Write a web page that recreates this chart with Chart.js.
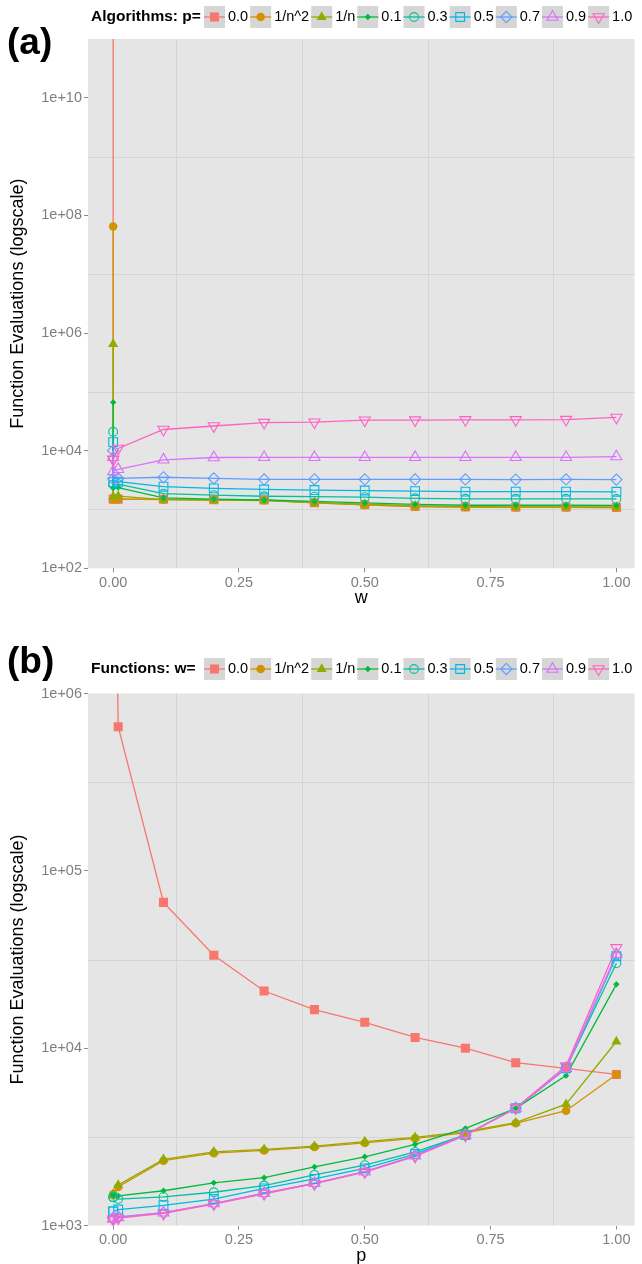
<!DOCTYPE html>
<html lang="en">
<head>
<meta charset="UTF-8">
<title>Function evaluations</title>
<style>
    html, body { margin: 0; padding: 0; background: #fff; }
    body { width: 642px; height: 1264px; overflow: hidden; position: relative; }
    canvas { position: absolute; left: 0; }
    #chartA { top: 0; }
    #chartB { top: 640px; }
</style>
</head>
<body>
<canvas id="chartA" width="642" height="622"></canvas>
<canvas id="chartB" width="642" height="638"></canvas>

<script src="https://cdn.jsdelivr.net/npm/chart.js@4.4.0/dist/chart.umd.min.js"></script>
<script>
    // levels of p and w (n = 100, so 1/n^2 = 0.0001 and 1/n = 0.01)
    const levels = [0, 0.0001, 0.01, 0.1, 0.2, 0.3, 0.4, 0.5, 0.6, 0.7, 0.8, 0.9, 1.0];
    const seriesNames = ['0.0', '1/n^2', '1/n', '0.1', '0.3', '0.5', '0.7', '0.9', '1.0'];
    const seriesLevel = [0, 1, 2, 3, 5, 7, 9, 11, 12];   // index into levels

    // function evaluations, one row per p, columns follow the w levels
    // 1e12 = run that never finishes (off the chart)
    const evalsP00 = [1e12, 1500, 1500, 1490, 1460, 1450, 1300, 1200, 1120, 1100, 1090, 1090, 1080];
    const evalsPn2 = [6.5e7, 1480, 1500, 1480, 1460, 1440, 1300, 1200, 1120, 1100, 1090, 1090, 1080];
    const evalsPn1 = [6.5e5, 1650, 1690, 1470, 1440, 1410, 1310, 1230, 1160, 1120, 1110, 1110, 1100];
    const evalsP01 = [66400, 2320, 2360, 1570, 1500, 1450, 1370, 1300, 1220, 1180, 1180, 1180, 1170];
    const evalsP02 = [33400, 2560, 2600, 1740, null, 1540, null, 1410, null, 1330, null, 1330, 1320];
    const evalsP03 = [21000, 2650, 2690, 1860, 1750, 1680, 1650, 1620, 1550, 1520, 1520, 1520, 1510];
    const evalsP04 = [16500, 2770, 2800, 2140, null, 1930, null, 1830, null, 1730, null, 1730, 1720];
    const evalsP05 = [14000, 2920, 2970, 2440, 2280, 2190, 2140, 2100, 2050, 2010, 2010, 2010, 2000];
    const evalsP06 = [11500, 3100, 3140, 2870, null, 2600, null, 2530, null, 2470, null, 2470, 2450];
    const evalsP07 = [10000, 3330, 3380, 3530, 3380, 3240, 3260, 3240, 3240, 3240, 3230, 3240, 3220];
    const evalsP08 = [8280, 3770, 3800, 4580, null, 4580, null, 4580, null, 4580, null, 4580, 4600];
    const evalsP09 = [7700, 4440, 4830, 7000, 7650, 7700, 7700, 7700, 7700, 7700, 7700, 7700, 7930];
    const evalsP10 = [7110, 7100, 10900, 22900, 26300, 30100, 30500, 33000, 33200, 33500, 33500, 33800, 36800];
    const rowsByP = [evalsP00, evalsPn2, evalsPn1, evalsP01, evalsP02, evalsP03, evalsP04,
                     evalsP05, evalsP06, evalsP07, evalsP08, evalsP09, evalsP10];

    const xTicks = [0, 0.25, 0.5, 0.75, 1];
    const yTicksA = [1e2, 1e4, 1e6, 1e8, 1e10];
    const yTicksB = [1e3, 1e4, 1e5, 1e6];

    // ggplot hue palette and point shapes
    const colors = ['#F8766D', '#D39200', '#93AA00', '#00BA38', '#00C19F', '#00B9E3', '#619CFF', '#DB72FB', '#FF61C3'];
    const shapes = [
        { style: 'rect', r: 6.4, fill: true },
        { style: 'circle', r: 4.3, fill: true },
        { style: 'triangle', r: 5.8, fill: true },
        { style: 'rectRot', r: 3.2, fill: true },
        { style: 'circle', r: 4.4, fill: false },
        { style: 'rect', r: 6.2, fill: false },
        { style: 'rectRot', r: 5.6, fill: false },
        { style: 'triangle', r: 6.4, fill: false },
        { style: 'triangle', r: 6.4, fill: false, rot: 180 }
    ];

    const FONT = '"Liberation Sans", Arial, sans-serif';
    Chart.defaults.font.family = FONT;

    function fmtExp(v) {
        return '1e+' + String(Math.round(Math.log10(v))).padStart(2, '0');
    }

    function drawMarker(ctx, s, color, x, y) {
        ctx.save();
        ctx.translate(x, y);
        if (s.rot) ctx.rotate(s.rot * Math.PI / 180);
        ctx.beginPath();
        const r = s.r;
        if (s.style === 'circle') {
            ctx.arc(0, 0, r, 0, 2 * Math.PI);
        } else if (s.style === 'rect') {
            const h = r * Math.SQRT1_2;
            ctx.rect(-h, -h, 2 * h, 2 * h);
        } else if (s.style === 'rectRot') {
            ctx.moveTo(0, -r); ctx.lineTo(r, 0); ctx.lineTo(0, r); ctx.lineTo(-r, 0); ctx.closePath();
        } else {
            for (let k = 0; k < 3; k++) {
                const a = k * 2 * Math.PI / 3;
                ctx.lineTo(r * Math.sin(a), -r * Math.cos(a));
            }
            ctx.closePath();
        }
        if (s.fill) {
            ctx.fillStyle = color; ctx.fill();
        } else {
            ctx.strokeStyle = color; ctx.lineWidth = 1.1; ctx.stroke();
        }
        ctx.restore();
    }

    // panel background, minor grid, panel tag and legend
    function makeDecor(cfg) {
        return {
            id: 'ggDecor',
            beforeDraw(chart) {
                const { ctx, chartArea: a, scales: { x, y } } = chart;
                ctx.save();
                ctx.fillStyle = '#E5E5E5';
                ctx.fillRect(a.left, a.top, a.right - a.left, a.bottom - a.top);
                ctx.strokeStyle = '#D4D4D4';
                ctx.lineWidth = 1;
                ctx.beginPath();
                cfg.xMinor.forEach(v => {
                    const px = Math.round(x.getPixelForValue(v)) + 0.5;
                    ctx.moveTo(px, a.top); ctx.lineTo(px, a.bottom);
                });
                cfg.yMinor.forEach(v => {
                    const py = Math.round(y.getPixelForValue(v)) + 0.5;
                    ctx.moveTo(a.left, py); ctx.lineTo(a.right, py);
                });
                ctx.stroke();
                ctx.restore();
            },
            afterDraw(chart) {
                const ctx = chart.ctx;
                ctx.save();
                ctx.textBaseline = 'middle';
                ctx.textAlign = 'left';
                ctx.fillStyle = '#000';
                ctx.font = 'bold 37px ' + FONT;
                ctx.fillText(cfg.tag, 7, cfg.tagY);

                const ly = cfg.legendY;
                ctx.font = 'bold 15.5px ' + FONT;
                ctx.fillText(cfg.legendTitle, 91, ly);
                let cx = 204;
                seriesNames.forEach((name, k) => {
                    ctx.fillStyle = '#D6D6D6';
                    ctx.fillRect(cx, ly - 11, 21, 22);
                    ctx.strokeStyle = colors[k];
                    ctx.lineWidth = 1.3;
                    ctx.beginPath();
                    ctx.moveTo(cx, ly); ctx.lineTo(cx + 21, ly);
                    ctx.stroke();
                    drawMarker(ctx, shapes[k], colors[k], cx + 10.5, ly);
                    ctx.font = '14.5px ' + FONT;
                    ctx.fillStyle = '#000';
                    ctx.fillText(name, cx + 24, ly);
                    cx += 24 + ctx.measureText(name).width + 2;
                });
                ctx.restore();
            }
        };
    }

    function makeDatasets(seriesPoints) {
        const sets = [];
        seriesPoints.forEach((pts, k) => {
            const s = shapes[k];
            sets.push({
                data: pts,
                borderColor: colors[k],
                borderWidth: 1.3,
                pointRadius: 0,
                fill: false,
                order: 30 - k,
                clip: 0
            });
            sets.push({
                data: pts,
                showLine: false,
                pointStyle: s.style,
                pointRadius: s.r,
                pointRotation: s.rot || 0,
                pointBackgroundColor: s.fill ? colors[k] : 'rgba(0,0,0,0)',
                pointBorderColor: colors[k],
                pointBorderWidth: s.fill ? 0 : 1.1,
                order: 10 - k,
                clip: 0
            });
        });
        return sets;
    }

    function makeChart(id, datasets, cfg) {
        const tickFont = { family: FONT, size: 14.5 };
        return new Chart(document.getElementById(id), {
            type: 'line',
            data: { datasets: datasets },
            options: {
                responsive: false,
                animation: false,
                devicePixelRatio: 1,
                events: [],
                elements: { line: { tension: 0 } },
                layout: { padding: { left: 0, right: 0, top: cfg.padTop, bottom: cfg.padBottom } },
                plugins: { legend: { display: false }, tooltip: { enabled: false } },
                scales: {
                    x: {
                        type: 'linear',
                        min: -0.05,
                        max: 1.036,
                        afterBuildTicks: s => { s.ticks = xTicks.map(v => ({ value: v })); },
                        afterFit: s => { s.height = 52; s.paddingLeft = 0; s.paddingRight = 0; },
                        ticks: {
                            callback: v => v.toFixed(2),
                            color: '#7F7F7F', font: tickFont, padding: 2,
                            maxRotation: 0, autoSkip: false
                        },
                        grid: { drawOnChartArea: false, tickLength: 4, color: '#8C8C8C' },
                        border: { display: false },
                        title: {
                            display: true, text: cfg.xTitle, color: '#000',
                            font: { family: FONT, size: 18 }, padding: { top: 0, bottom: 11 }
                        }
                    },
                    y: {
                        type: 'logarithmic',
                        min: cfg.yMin,
                        max: cfg.yMax,
                        afterBuildTicks: s => { s.ticks = cfg.yTicks.map(v => ({ value: v })); },
                        afterFit: s => { s.width = 88; s.paddingTop = 0; s.paddingBottom = 0; },
                        ticks: { callback: v => fmtExp(v), color: '#7F7F7F', font: tickFont, padding: 2 },
                        grid: { drawOnChartArea: false, tickLength: 4, color: '#8C8C8C' },
                        border: { display: false },
                        title: {
                            display: true, text: 'Function Evaluations (logscale)', color: '#000',
                            font: { family: FONT, size: 18 }, padding: { top: 7, bottom: 0 }
                        }
                    }
                }
            },
            plugins: [makeDecor(cfg)]
        });
    }

    // (a): one line per algorithm p, x = w
    const pointsA = seriesLevel.map(pi => levels.map((w, i) => ({ x: w, y: rowsByP[pi][i] })));
    // (b): one line per function w, x = p
    const pointsB = seriesLevel.map(wi => levels.map((p, i) => ({ x: p, y: rowsByP[i][wi] })));

    makeChart('chartA', makeDatasets(pointsA), {
        padTop: 39, padBottom: 1.7,
        yMin: 1e2, yMax: 1e11, yTicks: yTicksA,
        xMinor: [0.125, 0.375, 0.625, 0.875], yMinor: [1e3, 1e5, 1e7, 1e9],
        xTitle: 'w', tag: '(a)', tagY: 44,
        legendTitle: 'Algorithms: p=', legendY: 17
    });

    makeChart('chartB', makeDatasets(pointsB), {
        padTop: 53.5, padBottom: 0.5,
        yMin: 1e3, yMax: 1e6, yTicks: yTicksB,
        xMinor: [0.125, 0.375, 0.625, 0.875],
        yMinor: [Math.pow(10, 3.5), Math.pow(10, 4.5), Math.pow(10, 5.5)],
        xTitle: 'p', tag: '(b)', tagY: 23,
        legendTitle: 'Functions: w=', legendY: 29
    });
</script>
</body>
</html>
